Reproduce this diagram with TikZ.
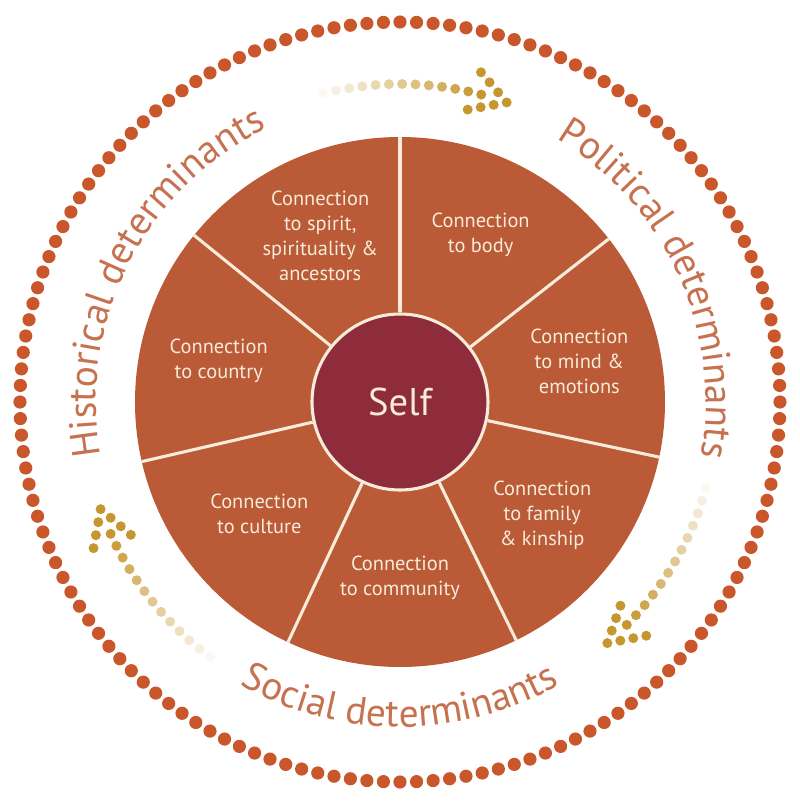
\documentclass[tikz,border=0pt]{standalone}
\usepackage{fontspec}
\setmainfont{PT Sans}
\usetikzlibrary{calc,decorations.text}

\definecolor{ringdot}{HTML}{C9572B}
\definecolor{wheelfill}{HTML}{BA5A36}
\definecolor{selfred}{HTML}{8E2C3B}
\definecolor{cream}{HTML}{F7EBD9}
\definecolor{determ}{HTML}{C6714F}
\definecolor{golden}{HTML}{C6962F}

\newcommand{\labelfont}{\fontsize{14.5}{17.8}\selectfont}
\newcommand{\determfont}{\fontsize{28}{32}\selectfont}

% dotted arrow running clockwise along the ring, #1 = start angle
\newcommand{\dotarrow}[1]{%
  \foreach \i in {0,...,12}{
    \pgfmathsetmacro{\mix}{6+94*\i/12}
    \fill[golden!\mix!white] ({#1-2.4*\i}:7.95) circle[radius=0.125];
  }
  \coordinate (tip) at ({#1-33.6}:7.95);
  \fill[golden] (tip) circle[radius=0.125];
  \foreach \a in {-30,30}{
    \foreach \k in {1,2,3}{
      \fill[golden] ($(tip)+({#1-33.6+90+\a}:{0.33*\k})$) circle[radius=0.125];
    }
  }
}

\begin{document}
\begin{tikzpicture}[
  seglabel/.style={text=cream,align=center,font=\labelfont},
  divider/.style={draw=cream,line width=2.2pt}]
\useasboundingbox (-10,-10) rectangle (10,10.05);

% outer ring of dots
\foreach \a in {0,2.5,...,357.5}
  \fill[ringdot] (\a:9.5) circle[radius=0.165];

% the wheel
\node[circle,fill=wheelfill,minimum size=13.25cm,inner sep=0pt] (wheel) at (0,0) {};
\node[circle,fill=selfred,draw=cream,line width=2.2pt,minimum size=4.4cm,
      text=cream,font=\fontsize{27.5}{30}\selectfont] (self) at (0,0) {Self};

\foreach \a in {90,38.57,-12.86,-64.29,-115.71,-167.14,141.43}
  \draw[divider] (self.\a) -- (wheel.\a);

\node[seglabel] (spirit) at (115.7:4.6) {Connection\\to spirit,\\spirituality \&\\ancestors};
\node[seglabel] (body) at (64.3:4.65) {Connection\\to body};
\node[seglabel] (mind) at (12.9:4.6) {Connection\\to mind \&\\emotions};
\node[seglabel] (family) at (-38.6:4.55) {Connection\\to family\\\& kinship};
\node[seglabel] (community) at (-90:4.4) {Connection\\to community};
\node[seglabel] (culture) at (-141.4:4.5) {Connection\\to culture};
\node[seglabel] (country) at (167.1:4.65) {Connection\\to country};

% determinants round the wheel
\path[decoration={text along path,text align=center,
      text={|\determfont\color{determ}|Historical determinants}},decorate]
  (228:7.6) arc[start angle=228,end angle=78,radius=7.6];
\path[decoration={text along path,text align=center,
      text={|\determfont\color{determ}|Political determinants}},decorate]
  (99.5:7.65) arc[start angle=99.5,end angle=-50.5,radius=7.65];
\path[decoration={text along path,text align=center,
      text={|\determfont\color{determ}|Social determinants}},decorate]
  (200:8.12) arc[start angle=200,end angle=340,radius=8.12];

% dotted arrows
\dotarrow{104}
\dotarrow{-15.7}
\dotarrow{-126.7}
\end{tikzpicture}
\end{document}
